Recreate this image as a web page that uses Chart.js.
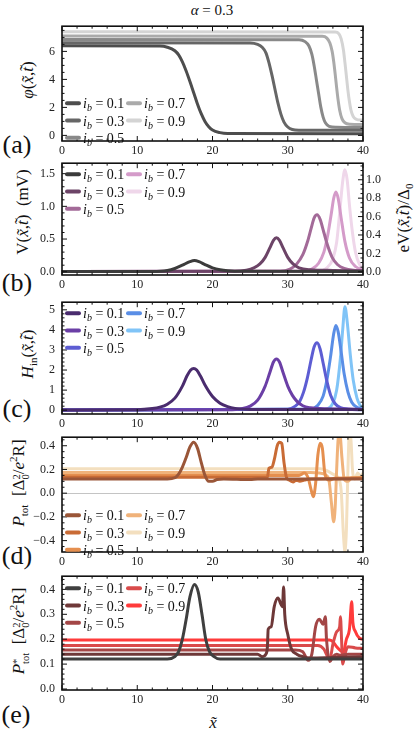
<!DOCTYPE html>
<html>
<head>
<meta charset="utf-8">
<script src="https://cdn.jsdelivr.net/npm/chart.js@4.4.1/dist/chart.umd.min.js"></script>
<style>
body { margin: 0; background: #fff; width: 415px; height: 730px; position: relative; overflow: hidden; font-family: "Liberation Serif", "Times New Roman", serif; color: #111; }
canvas { position: absolute; left: 0; }
.lbl { position: absolute; white-space: nowrap; transform: translate(-50%, -50%); line-height: 1; }
.rot { transform: translate(-50%, -50%) rotate(-90deg); font-size: 17px; }
.pl { font-size: 26px; }
sub, sup { font-size: 0.65em; line-height: 0; }
.ss { display: inline-flex; flex-direction: column; font-size: 0.62em; line-height: 0.9; vertical-align: 0.4em; }
</style>
</head>
<body>
<div class="lbl" style="left:212px;top:10px;font-size:15px"><i>α</i> = 0.3</div>

<div class="lbl pl" style="left:17px;top:145px">(a)</div>
<div class="lbl pl" style="left:17px;top:283px">(b)</div>
<div class="lbl pl" style="left:17px;top:409px">(c)</div>
<div class="lbl pl" style="left:17px;top:556px">(d)</div>
<div class="lbl pl" style="left:16px;top:715px">(e)</div>

<div class="lbl rot" style="left:27px;top:80px"><i>φ</i>(<i>x̃</i>,<i>t̃</i>)</div>
<div class="lbl rot" style="left:22px;top:212px">V(<i>x̃</i>,<i>t̃</i>)&nbsp;&nbsp;(mV)</div>
<div class="lbl rot" style="left:403px;top:218px">eV(<i>x̃</i>,<i>t̃</i>)/Δ<sub>0</sub></div>
<div class="lbl rot" style="left:27px;top:354px"><i>H</i><sub>in</sub>(<i>x̃</i>,<i>t̃</i>)</div>
<div class="lbl rot" style="left:20px;top:483px"><i>P</i><sub>tot</sub>&nbsp;&nbsp;[Δ<span class="ss"><span>2</span><span>0</span></span>/<i>e</i><sup>2</sup>R]</div>
<div class="lbl rot" style="left:20px;top:631px"><i>P</i><span class="ss"><span>*</span><span>tot</span></span>&nbsp;&nbsp;[Δ<span class="ss"><span>2</span><span>0</span></span>/<i>e</i><sup>2</sup>R]</div>
<div class="lbl" style="left:213px;top:722px;font-size:17px"><i>x̃</i></div>

<script>
// legend values and tick positions
const ibLabels = ['0.1', '0.3', '0.5', '0.7', '0.9'];
const xTicks = [0, 10, 20, 30, 40];
const phiTicks = [0, 2, 4, 6];
const vTicks = [0, 0.5, 1.0, 1.5];
const evTicks = [0, 0.2, 0.4, 0.6, 0.8, 1.0];
const hTicks = [0, 1, 2, 3, 4, 5];
const pTicks = [-0.4, -0.2, 0, 0.2, 0.4];
const psTicks = [0, 0.1, 0.2, 0.3, 0.4];

// (a) phase
const phi01 = [[0,6.4],[13,6.38],[14,6.3],[15,6.05],[15.5,5.75],[16,5.25],[16.5,4.6],[17,3.85],[17.5,3.05],[18,2.25],[18.5,1.55],[19,1.0],[19.5,0.62],[20,0.38],[21,0.2],[22,0.14],[40,0.12]];
const phi03 = [[0,6.62],[25,6.6],[26,6.5],[26.6,6.3],[27.1,5.9],[27.5,5.2],[27.9,4.3],[28.3,3.3],[28.7,2.3],[29.1,1.5],[29.5,0.95],[30,0.6],[30.6,0.42],[31.5,0.37],[40,0.36]];
const phi05 = [[0,6.85],[31.5,6.83],[32.3,6.7],[32.8,6.4],[33.2,5.8],[33.5,5.0],[33.8,4.0],[34.1,3.0],[34.4,2.0],[34.7,1.3],[35,0.9],[35.5,0.65],[36.5,0.58],[40,0.56]];
const phi07 = [[0,7.1],[34.6,7.08],[35.2,6.95],[35.6,6.6],[35.9,6.0],[36.1,5.3],[36.3,4.4],[36.5,3.4],[36.7,2.5],[36.9,1.8],[37.2,1.2],[37.6,0.9],[38.3,0.8],[40,0.78]];
const phi09 = [[0,7.4],[36.3,7.38],[36.8,7.25],[37.1,6.9],[37.4,6.1],[37.6,5.2],[37.8,4.2],[38,3.2],[38.2,2.4],[38.4,1.8],[38.7,1.35],[39.1,1.15],[39.6,1.1],[40,1.1]];

// (b) voltage
const v01 = [[0,0.003],[12,0.005],[14,0.02],[15,0.05],[16,0.1],[17,0.155],[17.6,0.172],[18.2,0.155],[19,0.11],[20,0.06],[21,0.03],[22,0.015],[24,0.006],[40,0.003]];
const v03 = [[0,0.003],[23,0.008],[24.5,0.025],[25.5,0.06],[26.3,0.12],[27,0.22],[27.6,0.36],[28.1,0.48],[28.5,0.52],[28.9,0.48],[29.4,0.36],[30,0.22],[30.7,0.12],[31.5,0.06],[33,0.03],[36,0.02],[40,0.015]];
const v05 = [[0,0.003],[29,0.008],[30.3,0.04],[31.2,0.12],[32,0.26],[32.6,0.45],[33.1,0.66],[33.5,0.82],[33.9,0.87],[34.3,0.8],[34.8,0.6],[35.3,0.4],[35.9,0.22],[36.6,0.11],[37.5,0.05],[39,0.02],[40,0.015]];
const v07 = [[0,0.003],[32,0.008],[33.2,0.04],[34.1,0.13],[34.8,0.3],[35.3,0.55],[35.8,0.9],[36.1,1.12],[36.4,1.22],[36.7,1.12],[37.1,0.82],[37.6,0.46],[38.2,0.21],[39,0.08],[40,0.03]];
const v09 = [[0,0.003],[34,0.01],[35.2,0.06],[36,0.2],[36.5,0.45],[36.9,0.9],[37.3,1.38],[37.6,1.56],[37.9,1.4],[38.2,1.02],[38.6,0.6],[39,0.3],[39.5,0.12],[40,0.05]];

// (c) H_in
const h01 = [[0,0.01],[10,0.02],[12,0.08],[13,0.15],[14,0.3],[15,0.6],[16,1.2],[16.6,1.7],[17.1,2.0],[17.5,2.08],[17.9,2.0],[18.4,1.7],[19,1.25],[20,0.68],[21,0.35],[22,0.18],[23,0.09],[25,0.04],[40,0.03]];
const h03 = [[0,0.01],[22,0.02],[24,0.08],[25,0.2],[26,0.5],[27,1.2],[27.6,1.85],[28.1,2.4],[28.5,2.55],[28.9,2.4],[29.4,1.85],[30,1.2],[30.6,0.75],[31.2,0.45],[32,0.22],[33,0.12],[35,0.07],[38,0.06],[40,0.04]];
const h05 = [[0,0.01],[30,0.05],[31,0.2],[31.6,0.45],[32.1,0.9],[32.6,1.6],[33.1,2.5],[33.5,3.15],[33.9,3.36],[34.3,3.05],[34.7,2.35],[35.2,1.45],[35.7,0.75],[36.3,0.32],[37,0.13],[38,0.05],[40,0.02]];
const h07 = [[0,0.01],[33,0.05],[34,0.25],[34.7,0.7],[35.2,1.5],[35.7,2.7],[36.1,3.8],[36.4,4.22],[36.7,3.9],[37.1,2.9],[37.5,1.8],[38,0.9],[38.5,0.4],[39.2,0.15],[40,0.05]];
const h09 = [[0,0.01],[35,0.05],[36,0.35],[36.5,1.0],[37,2.6],[37.3,4.0],[37.6,5.15],[37.9,4.4],[38.3,2.8],[38.7,1.5],[39.2,0.6],[39.6,0.25],[40,0.1]];

// (d) P_tot
const p01 = [[0,0.12],[14,0.12],[15,0.13],[15.5,0.16],[16,0.22],[16.5,0.3],[17,0.39],[17.5,0.43],[18,0.38],[18.5,0.26],[19,0.15],[19.5,0.1],[20,0.1],[20.6,0.115],[21.5,0.12],[25,0.115],[26,0.12],[40,0.12]];
const p03 = [[0,0.135],[27.3,0.135],[27.5,0.21],[27.9,0.22],[28.2,0.28],[28.6,0.4],[28.9,0.43],[29.2,0.42],[29.5,0.26],[29.8,0.14],[30.2,0.11],[30.7,0.095],[31.1,0.11],[31.6,0.1],[32.2,0.11],[33,0.12],[40,0.125]];
const p05 = [[0,0.15],[31.5,0.15],[32.2,0.17],[32.7,0.13],[33.1,0.03],[33.4,-0.03],[33.7,0.08],[34,0.32],[34.3,0.42],[34.6,0.38],[34.9,0.18],[35.2,0.12],[35.6,0.11],[36.2,0.125],[40,0.13]];
const p07 = [[0,0.175],[33,0.175],[34.2,0.17],[35.1,0.15],[35.5,0.1],[35.8,-0.08],[36.1,-0.24],[36.3,-0.12],[36.5,0.2],[36.7,0.46],[36.9,0.52],[37.2,0.3],[37.5,0.12],[38,0.1],[38.5,0.13],[40,0.13]];
const p09 = [[0,0.205],[34.3,0.205],[35.2,0.19],[36,0.16],[36.7,0.13],[37.1,0.02],[37.4,-0.35],[37.6,-0.5],[37.8,-0.3],[38,0.2],[38.2,0.52],[38.4,0.45],[38.6,0.2],[38.9,0.12],[39.3,0.17],[39.7,0.14],[40,0.17]];

// (e) P*_tot
const s01 = [[0,0.12],[14,0.12],[15,0.13],[15.5,0.15],[16,0.2],[16.5,0.28],[17,0.37],[17.6,0.42],[18.1,0.39],[18.6,0.3],[19.1,0.2],[19.6,0.15],[20.2,0.13],[21,0.12],[40,0.12]];
const s03 = [[0,0.14],[26,0.14],[26.6,0.13],[27.1,0.14],[27.3,0.17],[27.4,0.24],[27.8,0.25],[28.2,0.33],[28.7,0.365],[29.1,0.34],[29.3,0.33],[29.45,0.41],[29.6,0.3],[30,0.22],[30.5,0.16],[31.2,0.14],[32,0.13],[33,0.125],[40,0.13]];
const s05 = [[0,0.157],[31,0.157],[32,0.15],[32.7,0.115],[33.2,0.14],[33.7,0.25],[34.2,0.28],[34.7,0.26],[35,0.29],[35.15,0.2],[35.6,0.11],[36,0.13],[36.5,0.14],[37,0.135],[38,0.14],[40,0.14]];
const s07 = [[0,0.175],[34,0.175],[34.8,0.16],[35.3,0.13],[35.6,0.12],[36,0.18],[36.5,0.23],[36.9,0.25],[37,0.29],[37.15,0.2],[37.3,0.1],[37.6,0.14],[38,0.17],[39,0.165],[40,0.163]];
const s09 = [[0,0.197],[35.5,0.197],[36,0.19],[36.5,0.17],[37,0.155],[37.4,0.15],[37.8,0.2],[38.2,0.24],[38.5,0.35],[38.65,0.27],[39,0.23],[39.5,0.205],[40,0.2]];

const grayColors = ['#4d4d4d', '#666666', '#898989', '#aaaaaa', '#d4d4d4'];
const pinkColors = ['#3b3b3b', '#6c4467', '#a36a98', '#d49bc9', '#efd7ea'];
const blueColors = ['#4a2c6e', '#6b3fa6', '#5d5dd3', '#5a8ee6', '#80c4f7'];
const orangeColors = ['#9a5638', '#c96b35', '#e58f4f', '#f0b27a', '#f3dfbf'];
const redColors = ['#3f3f3f', '#6e3838', '#a34646', '#d94b4b', '#ff3b3b'];

const W = 415, PAD_TOP = 8, X_AXIS_H = 18, LEFT_W = 62, RIGHT_EDGE = 363;
const SERIF = '"Liberation Serif", "Times New Roman", serif';
const tickFont = { family: SERIF, size: 12 };

// frame with inward major/minor ticks on all four sides
const framePlugin = {
    id: 'frame',
    afterDatasetsDraw(chart, args, opts) {
        const { ctx, chartArea: a, scales } = chart;
        ctx.save();
        ctx.strokeStyle = '#111';
        ctx.lineWidth = 1;
        const seg = (x1, y1, x2, y2) => { ctx.beginPath(); ctx.moveTo(x1, y1); ctx.lineTo(x2, y2); ctx.stroke(); };
        const marks = (scale, major, minor, fn) => {
            const ratio = Math.round(major / minor);
            for (let n = Math.ceil(scale.min / minor - 1e-6); n <= Math.floor(scale.max / minor + 1e-6); n++) {
                fn(scale.getPixelForValue(n * minor), n % ratio === 0 ? 5 : 2.5);
            }
        };
        marks(scales.x, 10, 2, (p, L) => { seg(p, a.bottom, p, a.bottom - L); seg(p, a.top, p, a.top + L); });
        marks(scales.y, opts.major, opts.minor, (p, L) => {
            seg(a.left, p, a.left + L, p);
            if (!scales.y2) seg(a.right, p, a.right - L, p);
        });
        if (scales.y2) marks(scales.y2, 0.2, 0.05, (p, L) => seg(a.right, p, a.right - L, p));
        ctx.lineWidth = 1.6;
        ctx.strokeRect(a.left, a.top, a.right - a.left, a.bottom - a.top);
        ctx.restore();
    }
};

// two-column legend inside the frame: i_b = value
const legendPlugin = {
    id: 'ibLegend',
    afterDatasetsDraw(chart, args, opts) {
        const { ctx, chartArea: a } = chart;
        ctx.save();
        chart.data.datasets.forEach((ds, i) => {
            const col = i < 3 ? 0 : 1, row = i % 3;
            const x0 = a.left + (col ? 66 : 5);
            const y = a.top + opts.top + row * 17.3;
            ctx.strokeStyle = ds.borderColor;
            ctx.lineWidth = 4;
            ctx.lineCap = 'round';
            ctx.beginPath(); ctx.moveTo(x0, y); ctx.lineTo(x0 + 12, y); ctx.stroke();
            let x = x0 + 16;
            ctx.fillStyle = '#111';
            ctx.textBaseline = 'alphabetic';
            ctx.font = 'italic 14px ' + SERIF;
            ctx.fillText('i', x, y + 5);
            x += ctx.measureText('i').width;
            ctx.font = 'italic 10px ' + SERIF;
            ctx.fillText('b', x, y + 8);
            x += ctx.measureText('b').width;
            ctx.font = '14px ' + SERIF;
            ctx.fillText(' = ' + ds.label, x, y + 5);
        });
        ctx.restore();
    }
};

function setTicks(arr) {
    return scale => { scale.ticks = arr.map(v => ({ value: v })); };
}

function makePanel(cfg) {
    const cv = document.createElement('canvas');
    cv.width = W;
    cv.height = cfg.bottom - cfg.top + PAD_TOP + X_AXIS_H;
    cv.style.top = (cfg.top - PAD_TOP) + 'px';
    document.body.appendChild(cv);

    const scales = {
        x: {
            type: 'linear', min: 0, max: 40,
            afterBuildTicks: setTicks(xTicks),
            afterFit: s => { s.height = X_AXIS_H; },
            grid: { display: false, drawTicks: false }, border: { display: false },
            ticks: { font: tickFont, color: '#222', padding: 3, maxRotation: 0, autoSkip: false }
        },
        y: {
            type: 'linear', min: cfg.yMin, max: cfg.yMax,
            afterBuildTicks: setTicks(cfg.ticks),
            afterFit: s => { s.width = LEFT_W; },
            grid: cfg.zeroLine
                ? { color: c => (c.tick && c.tick.value === 0 ? '#c4c4c4' : 'rgba(0,0,0,0)'), drawTicks: false, lineWidth: 1 }
                : { display: false, drawTicks: false },
            border: { display: false },
            ticks: { font: tickFont, color: '#222', padding: 7, callback: cfg.fmt }
        }
    };
    if (cfg.right) {
        scales.y2 = {
            type: 'linear', position: 'right', min: cfg.right.min, max: cfg.right.max,
            afterBuildTicks: setTicks(cfg.right.ticks),
            afterFit: s => { s.width = W - RIGHT_EDGE; },
            grid: { display: false, drawTicks: false }, border: { display: false },
            ticks: { font: tickFont, color: '#222', padding: 3, callback: v => v.toFixed(1) }
        };
    }

    new Chart(cv, {
        type: 'line',
        data: {
            datasets: cfg.series.map((d, i) => ({
                label: ibLabels[i],
                data: d.map(p => ({ x: p[0], y: p[1] })),
                borderColor: cfg.colors[i],
                borderWidth: 3,
                pointRadius: 0,
                fill: false,
                cubicInterpolationMode: 'monotone'
            }))
        },
        options: {
            responsive: false,
            animation: false,
            layout: { padding: { top: PAD_TOP, left: 0, bottom: 0, right: cfg.right ? 0 : W - RIGHT_EDGE } },
            plugins: {
                legend: { display: false },
                tooltip: { enabled: false },
                frame: { major: cfg.major, minor: cfg.minor },
                ibLegend: { top: cfg.legendTop }
            },
            scales: scales
        },
        plugins: [framePlugin, legendPlugin]
    });
}

const fmt1 = v => v.toFixed(1).replace('-', '\u2212');
const fmt0 = v => String(v);

makePanel({ top: 20, bottom: 141, yMin: -0.4, yMax: 7.8, ticks: phiTicks, fmt: fmt0, major: 2, minor: 0.5,
    series: [phi01, phi03, phi05, phi07, phi09], colors: grayColors, legendTop: 77 });
makePanel({ top: 157, bottom: 275, yMin: -0.05, yMax: 1.66, ticks: vTicks, fmt: fmt1, major: 0.5, minor: 0.1,
    series: [v01, v03, v05, v07, v09], colors: pinkColors, legendTop: 11,
    right: { min: -0.035, max: 1.18, ticks: evTicks } });
makePanel({ top: 296, bottom: 414, yMin: -0.19, yMax: 5.38, ticks: hTicks, fmt: fmt0, major: 1, minor: 0.2,
    series: [h01, h03, h05, h07, h09], colors: blueColors, legendTop: 11 });
makePanel({ top: 431, bottom: 552, yMin: -0.496, yMax: 0.472, ticks: pTicks, fmt: fmt1, major: 0.2, minor: 0.05, zeroLine: true,
    series: [p01, p03, p05, p07, p09], colors: orangeColors, legendTop: 78 });
makePanel({ top: 570, bottom: 690, yMin: -0.004, yMax: 0.453, ticks: psTicks, fmt: fmt1, major: 0.1, minor: 0.02,
    series: [s01, s03, s05, s07, s09], colors: redColors, legendTop: 12 });
</script>
</body>
</html>
